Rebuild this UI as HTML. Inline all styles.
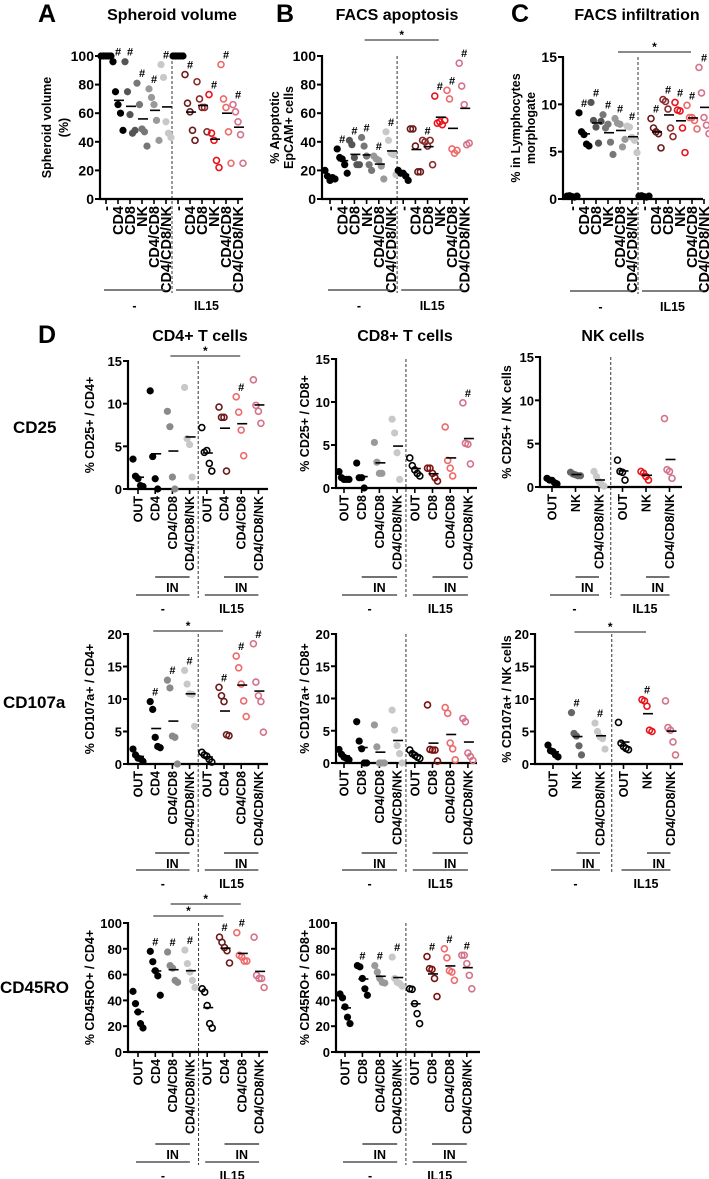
<!DOCTYPE html>
<html><head><meta charset="utf-8"><style>
html,body{margin:0;padding:0;background:#fff;}
svg{display:block;font-family:"Liberation Sans",Arial,sans-serif;font-weight:bold;}
</style></head><body>
<svg id="fig" width="709" height="1179" viewBox="0 0 709 1179" xmlns="http://www.w3.org/2000/svg">
<g font-weight="bold">
<text x="38" y="22" font-size="25">A</text>
<text x="172" y="20" font-size="16" text-anchor="middle">Spheroid volume</text>
<text x="276" y="22" font-size="25">B</text>
<text x="397" y="20" font-size="16" text-anchor="middle">FACS apoptosis</text>
<text x="511" y="22" font-size="25">C</text>
<text x="637" y="20" font-size="16" text-anchor="middle">FACS infiltration</text>
<text x="38" y="343" font-size="25">D</text>
<text x="200" y="341" font-size="16" text-anchor="middle">CD4+ T cells</text>
<text x="405" y="341" font-size="16" text-anchor="middle">CD8+ T cells</text>
<text x="613" y="341" font-size="16" text-anchor="middle">NK cells</text>
<text x="13" y="433" font-size="17">CD25</text>
<text x="3" y="708" font-size="17">CD107a</text>
<text x="0" y="993" font-size="17">CD45RO</text>
</g>
</svg>
<script>
// ---- data ----
const topCats = ['-','CD4','CD8','NK','CD4/CD8','CD4/CD8/NK','-','CD4','CD8','NK','CD4/CD8','CD4/CD8/NK'];
const spheroidVolume = [[100,100,100,100,100],[96,75,66,60,48],[96,75,59,46,48],[81,66,49,47,37],[77,71,66,55,41],[94,85,54,46,43],
 [100,100,100,100,100],[87,67,61,48,41],[82,70,64,64,47],[73,46,41,27,22],[94,70,64,47,25],[66,61,54,45,25]];
const spheroidHash = [0,1,1,1,1,1,0,1,0,1,1,1];
const apoptosis = [[20,16,13,15,14],[35,29,28,24,18],[41,38,29,24,24],[43,37,30,24,20],[30,28,27,23,14],[47,41,32,31,17],
 [20,18,18,16,13],[49,49,37,19,19],[41,40,37,41,24],[72,53,54,52,55],[76,70,35,32,34],[95,79,66,38,39]];
const apoptosisHash = [0,1,1,1,1,1,0,0,1,1,1,1];
const infiltration = [[0.3,0.35,0.25,0.2,0.3],[9.1,7.1,6.8,5.8,5.6],[10.2,8.3,7.6,5.9,8.2],[8.9,7.5,7.9,6.0,4.7],[8.5,8.0,7.9,5.5,6.3],[7.7,7.6,6.5,6.2,4.9],
 [0.3,0.35,0.25,0.2,0.3],[8.5,7.5,7.1,6.9,5.4],[10.5,10.3,9.5,7.5,6.6],[10.2,9.4,9.3,7.5,4.9],[9.9,8.6,8.6,8.3,7.4],[13.9,11.2,8.6,7.8,6.9]];
const infiltrationHash = [0,1,1,1,1,1,0,1,1,1,1,1];

const cd4Cats = ['OUT','CD4','CD4/CD8','CD4/CD8/NK','OUT','CD4','CD4/CD8','CD4/CD8/NK'];
const cd8Cats = ['OUT','CD8','CD4/CD8','CD4/CD8/NK','OUT','CD8','CD4/CD8','CD4/CD8/NK'];
const nkCats = ['OUT','NK','CD4/CD8/NK','OUT','NK','CD4/CD8/NK'];

const cd25Cd4 = [[3.5,1.5,1.2,0.4,0.3],[11.5,3.8,1.2,0],[9.1,7.3,1.4,0],[11.9,5.9,5.2,1.4],[7.2,4.3,4.5,3.0,2.1],[9.6,8.4,8.4,2.1],[10.8,9.0,6.9,3.9],[12.8,9.8,9.1,7.7]];
const cd25Cd4Hash = [0,0,0,0,0,0,1,0];
const cd25Cd8 = [[1.9,1.2,1.0,1.0,1.0],[2.9,1.2,1.2,0],[5.3,3.0,1.7,1.7],[8.0,6.4,4.1,1.0],[3.5,2.6,2.1,1.7,1.4],[2.3,2.3,1.7,1.2,0.8],[7.1,3.2,2.3,1.4],[9.9,5.2,5.1,2.8]];
const cd25Cd8Hash = [0,0,0,0,0,0,0,1];
const cd25Nk = [[1.0,0.8,0.77,0.5,0.35],[1.7,1.5,1.4,1.3,1.3],[1.8,1.2,0.65,0.3,0.1],[3.1,1.8,1.7,0.8],[1.8,1.6,1.2,0.8],[7.9,2.0,1.8,1.0]];
const cd25NkHash = [0,0,0,0,0,0];

const cd107Cd4 = [[2.3,1.4,0.9,0.8,0.4],[9.6,8.4,4.1,2.7,2.5],[12.9,11.7,4.3,4.1,0],[14.4,12.3,10.8,10.7,5.8],[1.8,1.4,1.2,0.7,0.3],[11.8,10.5,9.6,4.5,4.35],[16.6,14.8,12.3,9.7,7.3],[18.5,12.6,10.5,9.6,4.9]];
const cd107Cd4Hash = [0,1,1,1,0,1,1,1];
const cd107Cd8 = [[2.1,1.35,0.9,0.7,0.5],[6.4,3.4,2.2,0,0],[5.9,2.5,0,0,0],[8.2,5.1,2.7,1.45,0],[2.0,1.45,1.2,0.9,0.7],[9.0,2.1,2.0,2.0,0.3],[8.6,7.7,3.1,2.2,0.5],[6.9,6.4,1.55,1.0,0.4]];
const cd107Cd8Hash = [0,0,0,0,0,0,0,0];
const cd107Nk = [[2.9,2.05,1.9,1.4,1.1],[7.9,4.7,4.3,2.8,1.4],[6.3,5.0,4.2,3.9,2.3],[6.4,3.2,2.7,2.4,2.2],[9.9,9.7,8.9,5.2,5.0],[9.7,5.6,5.2,3.4,1.4]];
const cd107NkHash = [0,1,1,0,1,0];

const cd45Cd4 = [[47,37.5,31,22,18.6],[78,70,63,59,44],[77.5,67,65,55.5,54],[79,68.5,62,55.5,50],[49,46.5,36,22,18.6],[89,85,81,78.5,69],[92.5,75,73.6,70.5,70.5],[89,59.4,57,57,50]];
const cd45Cd4Hash = [0,1,1,1,0,1,1,0];
const cd45Cd8 = [[45,42,35,27,22],[67,66,57,49,44],[67,62,57,54,53.5],[73.6,57,54,53,51],[49,48.6,37.5,29.7,22],[74,64.6,64,57,43],[80,73,63,62,55.6],[75,75,68.5,59.4,49]];
const cd45Cd8Hash = [0,1,1,1,0,1,1,1];

// ---- styles / layout ----
const topColors = ['#000','#000','#555','#777','#999','#c8c8c8','#000','#6b1a1a','#8b2a2a','#e8141c','#ee6a6a','#d4728a'];
const topOpen = [0,0,0,0,0,0,0,1,1,1,1,1];
const cd4Colors = ['#000','#000','#8a8a8a','#c8c8c8','#000','#6b1a1a','#ee6a6a','#d4728a'];
const cd8Colors = ['#000','#000','#999','#c8c8c8','#000','#7a1010','#ee6a6a','#d4728a'];
const nkColors = ['#000','#666','#c8c8c8','#000','#e8141c','#d4728a'];
const dOpen4 = [0,0,0,0,1,1,1,1];
const dOpen3 = [0,0,0,1,1,1];

const panels = [
 {name:'spheroid-volume',type:'top',data:spheroidVolume,hash:spheroidHash,cats:topCats,colors:topColors,open:topOpen,ax:100,xEnd:243,yT:56,yB:199,ymax:100,tick:20,c0:106,step:12,n:6,title:['Spheroid volume','(%)'],tx:[47,64],gl:290,sig:[],fs:14.5,tfs:14},
 {name:'facs-apoptosis',type:'top',data:apoptosis,hash:apoptosisHash,cats:topCats,colors:topColors,open:topOpen,ax:322,xEnd:468,yT:56,yB:199,ymax:100,tick:20,c0:330,step:12.2,n:6,title:['% Apoptotic','EpCAM+ cells'],tx:[275,289],gl:290,sig:[[3,9,40]],fs:14.5,tfs:14},
 {name:'facs-infiltration',type:'top',data:infiltration,hash:infiltrationHash,cats:topCats,colors:topColors,open:topOpen,ax:563,xEnd:703,yT:57,yB:199,ymax:15,tick:5,c0:572,step:12,n:6,title:['% in Lymphocytes','morphogate'],tx:[516,531],gl:291,sig:[[4,10,52]],fs:14.5,tfs:14},
 {name:'cd25-cd4',type:'d',data:cd25Cd4,hash:cd25Cd4Hash,cats:cd4Cats,colors:cd4Colors,open:dOpen4,ax:128,xEnd:268,yT:361,yB:489,ymax:15,tick:5,c0:138,step:17.2,n:4,title:['% CD25+ / CD4+'],tx:[90],inY:577,gl:595,sig:[[2,6,356]],fs:12.5,tfs:13},
 {name:'cd25-cd8',type:'d',data:cd25Cd8,hash:cd25Cd8Hash,cats:cd8Cats,colors:cd8Colors,open:dOpen4,ax:336,xEnd:477,yT:359,yB:488,ymax:15,tick:5,c0:344,step:17.7,n:4,title:['% CD25+ / CD8+'],tx:[305],inY:577,gl:595,sig:[],fs:12.5,tfs:13},
 {name:'cd25-nk',type:'d',data:cd25Nk,hash:cd25NkHash,cats:nkCats,colors:nkColors,open:dOpen3,ax:540,xEnd:682,yT:357,yB:487,ymax:15,tick:5,c0:552,step:23.5,n:3,title:['% CD25+ / NK cells'],tx:[507],inY:577,gl:595,sig:[],fs:12.5,tfs:13},
 {name:'cd107a-cd4',type:'d',data:cd107Cd4,hash:cd107Cd4Hash,cats:cd4Cats,colors:cd4Colors,open:dOpen4,ax:128,xEnd:268,yT:634,yB:764,ymax:20,tick:5,c0:138,step:17.2,n:4,title:['% CD107a+ / CD4+'],tx:[90],inY:853,gl:870,sig:[[1,5,631]],fs:12.5,tfs:13},
 {name:'cd107a-cd8',type:'d',data:cd107Cd8,hash:cd107Cd8Hash,cats:cd8Cats,colors:cd8Colors,open:dOpen4,ax:336,xEnd:477,yT:634,yB:763,ymax:20,tick:5,c0:344,step:17.7,n:4,title:['% CD107a+ / CD8+'],tx:[305],inY:853,gl:870,sig:[],fs:12.5,tfs:13},
 {name:'cd107a-nk',type:'d',data:cd107Nk,hash:cd107NkHash,cats:nkCats,colors:nkColors,open:dOpen3,ax:535,xEnd:683,yT:634,yB:764,ymax:20,tick:5,c0:553,step:23.5,n:3,title:['% CD107a+ / NK cells'],tx:[507],inY:853,gl:870,sig:[[1,4,632]],fs:12.5,tfs:13},
 {name:'cd45ro-cd4',type:'d',data:cd45Cd4,hash:cd45Cd4Hash,cats:cd4Cats,colors:cd4Colors,open:dOpen4,ax:128,xEnd:268,yT:923,yB:1052,ymax:100,tick:20,c0:138,step:17.3,n:4,title:['% CD45RO+ / CD4+'],tx:[90],inY:1144,gl:1162,sig:[[2,6,904],[1,5,916]],fs:12.5,tfs:13},
 {name:'cd45ro-cd8',type:'d',data:cd45Cd8,hash:cd45Cd8Hash,cats:cd8Cats,colors:cd8Colors,open:dOpen4,ax:336,xEnd:480,yT:923,yB:1052,ymax:100,tick:20,c0:345,step:17.4,n:4,title:['% CD45RO+ / CD8+'],tx:[305],inY:1144,gl:1162,sig:[],fs:12.5,tfs:13}
];

const NS = 'http://www.w3.org/2000/svg';
const svg = document.getElementById('fig');
function mk(tag, attrs, parent){
  const e = document.createElementNS(NS, tag);
  for (const k in attrs) e.setAttribute(k, attrs[k]);
  parent.appendChild(e);
  return e;
}
const jit = [-5,-2.5,0,2.5,5];

panels.forEach(p => {
  const g = mk('g', {}, svg);
  
  
  const ys = v => p.yB - (v / p.ymax) * (p.yB - p.yT);
  const xs = i => p.c0 + i * p.step;
  const nc = p.cats.length;
  const dashX = (xs(p.n - 1) + xs(p.n)) / 2;
  const dashEnd = p.gl + 3;
  const dl = mk('line', {x1:dashX, x2:dashX, y1:p.yT, y2:dashEnd, stroke:'#333', 'stroke-width':1, 'stroke-dasharray':'3,2'}, g);
  
  
  const ya = mk('line', {x1:p.ax, x2:p.ax, y1:p.yT-1, y2:p.yB+1, stroke:'#000', 'stroke-width':2.2}, g);
  
  
  const xa = mk('line', {x1:p.ax-1, x2:p.xEnd, y1:p.yB, y2:p.yB, stroke:'#000', 'stroke-width':2.2}, g);
  
  
  for (let v = 0; v <= p.ymax + 1e-9; v += p.tick) {
    const y = ys(v);
    const tk = mk('line', {x1:p.ax-5, x2:p.ax, y1:y, y2:y, stroke:'#000', 'stroke-width':2}, g);
    
    
    const tl = mk('text', {x:p.ax-6, y:y+5, 'font-size':p.tfs, 'text-anchor':'end'}, g);
    
    
    tl.textContent = String(v);
  }
  const ty = (p.yT + p.yB) / 2;
  p.title.forEach((t, k) => {
    const tt = mk('text', {transform:`translate(${p.tx[k]+4},${ty}) rotate(-90)`, 'font-size':12.5, 'text-anchor':'middle'}, g);
    
    
    tt.textContent = t;
  });
  for (let i = 0; i < nc; i++) {
    const x = xs(i);
    const xt = mk('line', {x1:x, x2:x, y1:p.yB, y2:p.yB+5, stroke:'#000', 'stroke-width':1.6}, g);
    
    
    const cl = mk('text', {transform:`translate(${x+p.fs*0.36},${p.yB+7}) rotate(-90)`, 'font-size':p.fs, 'text-anchor':'end'}, g);
    
    
    cl.textContent = p.cats[i];
    const vals = p.data[i];
    const col = p.colors[i];
    const open = p.open[i];
    vals.forEach((v, k) => {
      const c = mk('circle', {cx:x + jit[k % 5], cy:ys(v), r: open ? 3 : 3.6,
        fill: open ? 'none' : col, stroke: col, 'stroke-width': open ? 1.6 : 0}, g);
      
      
    });
    const mean = vals.reduce((a,b)=>a+b,0) / vals.length;
    const ml = mk('line', {x1:x-4, x2:x+6, y1:ys(mean), y2:ys(mean), stroke:'#000', 'stroke-width':1.6}, g);
    
    
    if (p.hash[i]) {
      const h = mk('text', {x:x, y:ys(Math.max(...vals)) - 6, 'font-size':11, 'text-anchor':'middle'}, g);
      
      
      h.textContent = '#';
    }
  }
  const groups = [['-',0],['IL15',p.n]];
  groups.forEach(([lab, s]) => {
    const x1 = xs(s) - 2, x2 = xs(s + p.n - 1) + (p.type === 'top' ? -1 : 0);
    const gl = mk('line', {x1:x1, x2:x2, y1:p.gl, y2:p.gl, stroke:'#555', 'stroke-width':1.4}, g);
    
    
    const gt = mk('text', {x:(x1+x2)/2, y:p.gl + (p.type === 'top' ? 20 : 18), 'font-size':12.5, 'text-anchor':'middle'}, g);
    
    
    gt.textContent = lab;
    if (p.type === 'd') {
      const ix1 = xs(s + 1), ix2 = xs(s + p.n - 1);
      const il = mk('line', {x1:ix1, x2:ix2, y1:p.inY, y2:p.inY, stroke:'#444', 'stroke-width':1.4}, g);
      
      
      const it = mk('text', {x:(ix1+ix2)/2, y:p.inY + 15, 'font-size':12.5, 'text-anchor':'middle'}, g);
      
      
      it.textContent = 'IN';
    }
  });
  p.sig.forEach(([a, b, y]) => {
    const x1 = xs(a) - 2, x2 = xs(b) - 1;
    const sl = mk('line', {x1:x1, x2:x2, y1:y, y2:y, stroke:'#444', 'stroke-width':1.2}, g);
    
    
    const st = mk('text', {x:(x1+x2)/2, y:y - 1, 'font-size':12, 'text-anchor':'middle'}, g);
    
    
    st.textContent = '*';
  });
});
</script>
</body></html>
